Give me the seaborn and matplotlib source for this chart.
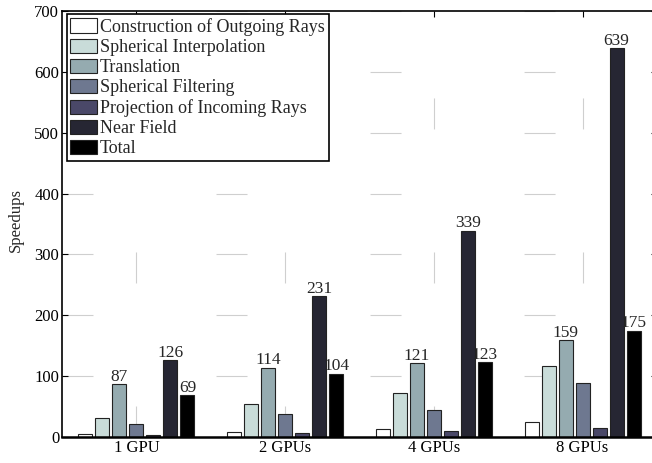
import matplotlib
matplotlib.use("Agg")
import matplotlib.pyplot as plt
import seaborn as sns
import pandas as pd

configs = ["1 GPU", "2 GPUs", "4 GPUs", "8 GPUs"]
stages = [
    "Construction of Outgoing Rays",
    "Spherical Interpolation",
    "Translation",
    "Spherical Filtering",
    "Projection of Incoming Rays",
    "Near Field",
    "Total",
]
construction = [5, 9, 13, 24]
interpolation = [31, 54, 73, 116]
translation = [87, 114, 121, 159]
filtering = [22, 37, 45, 88]
projection = [4, 6, 10, 15]
near_field = [126, 231, 339, 639]
total = [69, 104, 123, 175]
labelled_stages = ["Translation", "Near Field", "Total"]

stage_colors = ["#ffffff", "#c9dcd9", "#95abb0", "#6e7890",
                "#4a4868", "#262633", "#000000"]

series = [construction, interpolation, translation, filtering,
          projection, near_field, total]
rows = []
for stage, vals in zip(stages, series):
    for cfg, v in zip(configs, vals):
        rows.append({"config": cfg, "stage": stage, "speedup": v})
df = pd.DataFrame(rows)

sns.set_style("ticks")
plt.rcParams["font.family"] = ["Liberation Serif", "DejaVu Serif"]
plt.rcParams["lines.scale_dashes"] = False

fig = plt.figure(figsize=(6.52, 4.63), dpi=100)
ax = fig.add_axes([62 / 652, 26 / 463, 595 / 652, 426 / 463])

sns.barplot(data=df, x="config", y="speedup", hue="stage",
            order=configs, hue_order=stages, palette=stage_colors,
            width=0.8, gap=0.18, edgecolor="#222222", linewidth=0.8,
            saturation=1, errorbar=None, ax=ax, zorder=2)

for container, stage in zip(ax.containers, stages):
    if stage in labelled_stages:
        ax.bar_label(container, fmt="%d", padding=-0.5, fontsize=12.5,
                     clip_on=False)

ax.set_ylim(0, 700)
ax.set_xlim(-0.5, 3.5)
ax.set_yticks(range(0, 701, 100))
ax.set_xlabel("")
ax.set_ylabel("Speedups", fontsize=12)
ax.yaxis.set_label_coords(-0.064, 0.51)

ax.set_axisbelow(True)
ax.grid(True, color="#cfcfcf", linewidth=0.8,
        linestyle=(0, (22.3, 88.6)))

ax.tick_params(direction="in", length=4, width=0.8, top=True, right=True,
               labelsize=12, colors="black", pad=2)
for s in ax.spines.values():
    s.set_visible(True)
    s.set_color("black")
    s.set_linewidth(1.2)
ax.spines["bottom"].set_linewidth(1.8)

leg = ax.legend(loc="upper left", bbox_to_anchor=(0.008, 0.992),
                fontsize=13, frameon=True, fancybox=False, framealpha=1,
                edgecolor="black", borderpad=0.2, labelspacing=0.15,
                handlelength=1.45, handleheight=0.85, handletextpad=0.2,
                borderaxespad=0)
leg.get_frame().set_linewidth(1.2)
for h in leg.legend_handles:
    h.set_edgecolor("#222222")
    h.set_linewidth(0.8)

fig.savefig("out.png", dpi=100)
